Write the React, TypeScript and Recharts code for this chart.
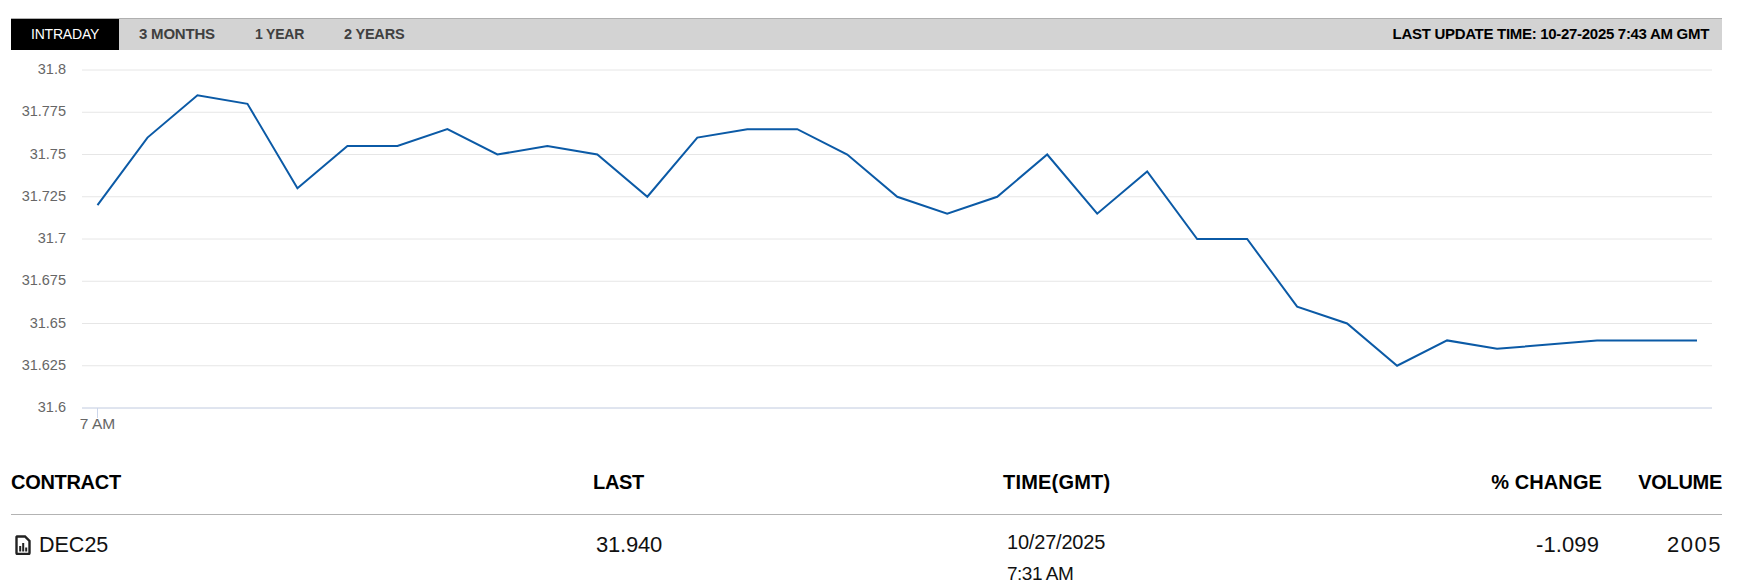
import { LineChart, Line, XAxis, YAxis, CartesianGrid } from "recharts"

const times = [
  "7 AM", "7:01", "7:02", "7:03", "7:04", "7:05", "7:06", "7:07", "7:08", "7:09", "7:10",
  "7:11", "7:12", "7:13", "7:14", "7:15", "7:16", "7:17", "7:18", "7:19", "7:20",
  "7:21", "7:22", "7:23", "7:24", "7:25", "7:26", "7:27", "7:28", "7:29", "7:30",
  "7:31", "7:32",
]
const prices: (number | null)[] = [
  31.72, 31.76, 31.785, 31.78, 31.73, 31.755, 31.755, 31.765, 31.75, 31.755, 31.75,
  31.725, 31.76, 31.765, 31.765, 31.75, 31.725, 31.715, 31.725, 31.75, 31.715,
  31.74, 31.7, 31.7, 31.66, 31.65, 31.625, 31.64, 31.635, null, 31.64,
  31.64, 31.64,
]
const yTicks = [31.6, 31.625, 31.65, 31.675, 31.7, 31.725, 31.75, 31.775, 31.8]
const xTicks = ["7 AM"]

const tabs = [
  { label: "3 MONTHS", left: 139, size: 15 },
  { label: "1 YEAR", left: 255, size: 14 },
  { label: "2 YEARS", left: 344, size: 14.5 },
]

const data = times.map((time, i) => ({ time, price: prices[i] }))

const FONT = "'Liberation Sans', Arial, sans-serif"

function Txt({ left, right, top, size = 20, bold, color = "#000", spacing, children }: any) {
  return (
    <div
      style={{
        position: "absolute",
        left,
        right,
        top,
        fontSize: size,
        lineHeight: "20px",
        fontWeight: bold ? 700 : 400,
        color,
        letterSpacing: spacing,
        whiteSpace: "nowrap",
      }}
    >
      {children}
    </div>
  )
}

export default function App() {
  return (
    <div style={{ position: "absolute", left: 0, top: 0, width: 1742, height: 585, fontFamily: FONT, overflow: "hidden", background: "#fff" }}>
      {/* range tabs */}
      <div style={{ position: "absolute", left: 11, top: 18, width: 1711, height: 32, background: "#d3d3d3", borderTop: "1px solid #b0b0b0", boxSizing: "border-box" }} />
      <div style={{ position: "absolute", left: 11, top: 19, width: 108, height: 31, background: "#000" }} />
      <Txt left={31} top={24} size={14} color="#fff" spacing="-0.2px">INTRADAY</Txt>
      {tabs.map((t) => (
        <Txt key={t.label} left={t.left} top={24} size={t.size} bold color="#404040" spacing="-0.2px">{t.label}</Txt>
      ))}
      <Txt right={33} top={24} size={15} bold spacing="-0.3px">LAST UPDATE TIME: 10-27-2025 7:43 AM GMT</Txt>

      <div style={{ position: "absolute", left: 0, top: 0 }}>
        <LineChart width={1742} height={450} data={data} margin={{ top: 70, right: 30, bottom: 12, left: 0 }}>
          <CartesianGrid vertical={false} stroke="#e6e6e6" />
          <XAxis
            dataKey="time"
            scale="point"
            ticks={xTicks}
            interval={0}
            height={30}
            padding={{ left: 15.5, right: 15 }}
            axisLine={{ stroke: "#ccd6eb" }}
            tickLine={{ stroke: "#ccd6eb" }}
            tickSize={10}
            tickMargin={0}
            tick={{ fill: "#666", fontSize: 15.5, fontFamily: FONT }}
          />
          <YAxis
            domain={[31.6, 31.8]}
            ticks={yTicks}
            width={82}
            axisLine={false}
            tickLine={false}
            tickSize={0}
            tickMargin={16}
            tick={{ fill: "#666", fontSize: 14.5, fontFamily: FONT, dy: -1 }}
            tickFormatter={(v) => String(v)}
          />
          <Line
            dataKey="price"
            type="linear"
            stroke="#0b5aa6"
            strokeWidth={2}
            dot={false}
            connectNulls
            isAnimationActive={false}
          />
        </LineChart>
      </div>

      {/* contract table */}
      <Txt left={11} top={472} bold spacing="-0.3px">CONTRACT</Txt>
      <Txt left={593} top={472} bold spacing="-0.3px">LAST</Txt>
      <Txt left={1003} top={472} bold spacing="0.2px">TIME(GMT)</Txt>
      <Txt right={140} top={472} bold spacing="0.1px">% CHANGE</Txt>
      <Txt right={20} top={472} bold spacing="-0.3px">VOLUME</Txt>
      <div style={{ position: "absolute", left: 11, top: 514, width: 1711, height: 1, background: "#b3b3b3" }} />

      <svg width={16} height={20} viewBox="0 0 16 20" style={{ position: "absolute", left: 15, top: 535 }}>
        <path d="M2 1.5 H10 L14.5 6 V18 a1 1 0 0 1 -1 1 H2.5 a1 1 0 0 1 -1 -1 V2 Z" fill="none" stroke="#222" strokeWidth={2.4} />
        <rect x={4.2} y={11} width={2} height={5.5} fill="#222" />
        <rect x={7.2} y={8} width={2} height={8.5} fill="#222" />
        <rect x={10.2} y={12.5} width={2} height={4} fill="#222" />
      </svg>
      <Txt left={39} top={535} size={21.5} color="#111">DEC25</Txt>
      <Txt left={596} top={535} size={22} color="#111" spacing="-0.2px">31.940</Txt>
      <Txt left={1007} top={532} size={20} color="#111" spacing="-0.2px">10/27/2025</Txt>
      <Txt left={1007} top={564} size={19} color="#111" spacing="-0.5px">7:31 AM</Txt>
      <Txt right={143} top={535} size={22} color="#111" spacing="0.1px">-1.099</Txt>
      <Txt right={20} top={535} size={22} color="#111" spacing="1.5px">2005</Txt>
    </div>
  )
}
